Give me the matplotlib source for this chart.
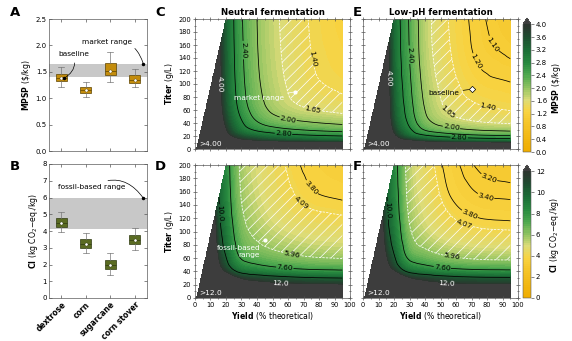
import matplotlib.pyplot as plt
import matplotlib.tri as mtri
import numpy as np
from matplotlib.colors import LinearSegmentedColormap

plt.rcParams["font.family"] = ["DejaVu Sans"]
plt.rcParams["font.size"] = 5
plt.rcParams["axes.linewidth"] = 0.5
plt.rcParams["axes.edgecolor"] = "#5a5a5a"
plt.rcParams["hatch.color"] = "white"
plt.rcParams["hatch.linewidth"] = 0.5

# ---- feedstock uncertainty (A, B) ----
feedstocks = ["dextrose", "corn", "sugarcane", "corn stover"]
mpsp_low = [1.21, 1.02, 1.31, 1.21]
mpsp_q1 = [1.32, 1.09, 1.43, 1.29]
mpsp_med = [1.38, 1.15, 1.52, 1.35]
mpsp_q3 = [1.46, 1.21, 1.66, 1.43]
mpsp_high = [1.60, 1.30, 1.87, 1.55]

ci_low = [3.94, 2.68, 1.36, 2.85]
ci_q1 = [4.21, 2.99, 1.72, 3.22]
ci_med = [4.45, 3.20, 1.98, 3.44]
ci_q3 = [4.76, 3.53, 2.27, 3.78]
ci_high = [5.11, 3.90, 2.70, 4.16]

market_range = [1.40, 1.65]
fossil_range = [4.09, 5.96]
fossil_range_lowph = [4.07, 5.96]

# ---- yield/titer maps (C-F) ----
yield_pts = [5, 10, 15, 20, 30, 40, 55, 75, 95]
titer_pts = [5, 10, 20, 30, 45, 65, 100, 150, 200]
# feasible only below the line through these points
limit_yield = [1.0, 20.0]
limit_titer = [0.0, 200.0]

# rows follow titer_pts, columns follow yield_pts
mpsp_neutral = [
    [14.79, 9.89, 8.82, 8.29, 7.76, 7.49, 7.27, 7.12, 7.03],
    [12.94, 7.62, 5.85, 5.21, 4.68, 4.41, 4.19, 4.04, 3.95],
    [12.25, 6.93, 5.16, 4.27, 3.53, 3.26, 3.04, 2.89, 2.80],
    [11.92, 6.60, 4.83, 3.94, 3.06, 2.71, 2.49, 2.34, 2.25],
    [11.67, 6.35, 4.58, 3.69, 2.80, 2.36, 2.07, 1.92, 1.83],
    [11.48, 6.16, 4.39, 3.50, 2.62, 2.17, 1.81, 1.61, 1.52],
    [11.38, 6.06, 4.29, 3.40, 2.52, 2.07, 1.71, 1.45, 1.35],
    [11.33, 6.01, 4.24, 3.35, 2.47, 2.02, 1.66, 1.40, 1.27],
    [11.31, 5.99, 4.22, 3.33, 2.44, 2.00, 1.64, 1.38, 1.23],
]
mpsp_lowph = [
    [15.09, 9.29, 8.10, 7.46, 6.93, 6.58, 6.35, 6.19, 6.13],
    [13.66, 7.86, 5.94, 5.07, 4.54, 4.19, 3.96, 3.80, 3.74],
    [12.88, 7.08, 5.16, 4.09, 3.25, 2.90, 2.67, 2.51, 2.45],
    [12.55, 6.75, 4.83, 3.76, 2.88, 2.36, 2.12, 1.96, 1.90],
    [12.33, 6.53, 4.61, 3.54, 2.66, 2.09, 1.76, 1.60, 1.54],
    [12.23, 6.43, 4.51, 3.44, 2.56, 1.98, 1.60, 1.42, 1.36],
    [12.14, 6.34, 4.42, 3.35, 2.47, 1.89, 1.51, 1.27, 1.21],
    [12.06, 6.26, 4.34, 3.27, 2.39, 1.81, 1.43, 1.16, 1.08],
    [12.03, 6.23, 4.31, 3.24, 2.36, 1.79, 1.40, 1.13, 1.03],
]
ci_neutral = [
    [42.45, 31.15, 28.07, 26.88, 25.03, 24.47, 23.98, 23.59, 23.45],
    [37.83, 24.55, 21.47, 20.28, 18.43, 17.87, 17.38, 16.99, 16.85],
    [34.33, 20.33, 16.47, 15.28, 13.43, 12.87, 12.38, 11.99, 11.85],
    [33.04, 19.04, 14.64, 13.43, 11.58, 11.02, 10.53, 10.14, 10.00],
    [31.06, 17.06, 12.66, 10.96, 8.76, 8.20, 7.71, 7.32, 7.18],
    [29.99, 16.00, 11.59, 9.89, 7.24, 6.67, 6.18, 5.79, 5.65],
    [29.22, 15.22, 10.82, 9.12, 6.47, 5.67, 5.08, 4.69, 4.55],
    [28.67, 14.67, 10.27, 8.57, 5.92, 5.12, 4.42, 3.91, 3.77],
    [28.45, 14.45, 10.05, 8.35, 5.70, 4.90, 4.20, 3.65, 3.45],
]
ci_lowph = [
    [42.05, 30.75, 27.95, 26.78, 24.68, 24.04, 23.46, 23.12, 23.05],
    [37.71, 24.55, 21.75, 20.58, 18.48, 17.84, 17.26, 16.92, 16.85],
    [34.23, 20.23, 16.78, 15.61, 13.51, 12.87, 12.29, 11.95, 11.88],
    [33.06, 19.06, 15.11, 13.94, 11.84, 11.20, 10.62, 10.28, 10.21],
    [30.94, 16.94, 12.94, 11.27, 8.81, 8.17, 7.59, 7.25, 7.18],
    [29.72, 15.72, 11.72, 10.05, 7.06, 6.42, 5.84, 5.50, 5.43],
    [28.80, 14.80, 10.80, 9.13, 6.13, 5.21, 4.53, 4.19, 4.12],
    [28.28, 14.28, 10.28, 8.61, 5.61, 4.69, 3.87, 3.45, 3.38],
    [28.05, 14.05, 10.05, 8.38, 5.38, 4.46, 3.64, 3.15, 3.05],
]

baseline_yield, baseline_titer = 70, 92
market_point = (64.7, 88)
fossil_point = (45.4, 87)

cmap = LinearSegmentedColormap.from_list("mpsp", [
    (0.00, "#efac00"), (0.22, "#f5c427"), (0.32, "#f8d443"), (0.41, "#dcdc78"),
    (0.50, "#93c462"), (0.60, "#4ea94f"), (0.70, "#27893f"), (0.80, "#1b6e36"),
    (0.90, "#1e4d30"), (1.00, "#2c332e")])
cmap.set_over("#3d3d3d")

W, H = 572, 341
fig = plt.figure(figsize=(W / 100, H / 100), dpi=100)


def px_axes(left, top, right, bottom):
    return fig.add_axes([left / W, 1 - bottom / H, (right - left) / W, (bottom - top) / H])


# ---- interpolation grid (log yield / log titer) ----
ny, nx = len(titer_pts), len(yield_pts)
gy, gt = np.meshgrid(yield_pts, titer_pts)
idx = np.arange(nx * ny).reshape(ny, nx)
a, b = idx[:-1, :-1].ravel(), idx[:-1, 1:].ravel()
c, d = idx[1:, 1:].ravel(), idx[1:, :-1].ravel()
tris = np.concatenate([np.column_stack([a, b, c]), np.column_stack([a, c, d])])
triang = mtri.Triangulation(np.log(gy.ravel()), np.log(gt.ravel()), tris)

fy, ft = np.meshgrid(np.linspace(1, yield_pts[-1], 340), np.linspace(0, titer_pts[-1], 340))
slope = (limit_titer[1] - limit_titer[0]) / (limit_yield[1] - limit_yield[0])
infeasible = ft > limit_titer[0] + slope * (fy - limit_yield[0])


def surface(grid):
    interp = mtri.CubicTriInterpolator(triang, np.asarray(grid, float).ravel(), kind="geom")
    z = interp(np.log(fy), np.log(np.maximum(ft, 0.1)))
    # below the lowest yield / titer the value is far above the colour range
    z = np.ma.filled(z, 1e3)
    return np.ma.masked_where(infeasible, z)


def style_map(ax, xlabels, ylabels):
    ax.set_xlim(0, 100)
    ax.set_ylim(0, 200)
    ax.set_xticks(np.arange(0, 101, 10))
    ax.set_xticks(np.arange(0, 101, 5), minor=True)
    ax.set_yticks(np.arange(0, 201, 20))
    ax.set_yticks(np.arange(0, 201, 10), minor=True)
    ax.tick_params(which="both", direction="inout", top=True, right=True,
                   width=0.5, labelsize=4.8, pad=1.5, color="#555555",
                   labelbottom=xlabels, labelleft=ylabels)
    ax.tick_params(which="major", length=3)
    ax.tick_params(which="minor", length=2)
    if xlabels:
        ax.set_xlabel(r"$\bf{Yield}$ (% theoretical)", fontsize=5.6, labelpad=1.5)
    if ylabels:
        ax.set_ylabel(r"$\bf{Titer}$ (g/L)", fontsize=5.6, labelpad=1.5)


def draw_map(ax, grid, vmax, band, lines, over_text):
    z = surface(grid)
    cf = ax.contourf(fy, ft, z, levels=np.linspace(0, vmax, 61), cmap=cmap, extend="max")
    ax.contourf(fy, ft, z, levels=band, colors="none", hatches=["///"])
    for level, text, color, style, tcolor, pos in lines:
        cs = ax.contour(fy, ft, z, levels=[level], colors=color, linewidths=0.55,
                        linestyles=[style])
        ax.clabel(cs, fmt={level: text}, manual=[pos], colors=tcolor, fontsize=5.3,
                  inline_spacing=1)
    ax.text(3, 7, over_text, color="white", fontsize=5.3, ha="left", va="center")
    return cf


dash = (0, (3, 1.6))
ax_c = px_axes(195, 19, 350, 149)
ax_d = px_axes(195, 165, 350, 298)
ax_e = px_axes(363, 19, 518, 149)
ax_f = px_axes(363, 165, 518, 298)

cf_mpsp = draw_map(ax_c, mpsp_neutral, 4.0, market_range, [
    (1.40, "1.40", "white", dash, "black", (77, 140)),
    (1.65, "1.65", "white", dash, "black", (76, 62)),
    (2.00, "2.00", "black", "solid", "black", (60, 45)),
    (2.40, "2.40", "black", "solid", "black", (28, 152)),
    (2.80, "2.80", "black", "solid", "black", (57, 20)),
    (4.00, "4.00", "#3d3d3d", "solid", "white", (15.5, 100)),
], ">4.00")
draw_map(ax_e, mpsp_lowph, 4.0, market_range, [
    (1.10, "1.10", "black", "solid", "black", (84, 162)),
    (1.20, "1.20", "black", "solid", "black", (73, 134)),
    (1.40, "1.40", "white", dash, "black", (81, 70)),
    (1.65, "1.65", "white", dash, "black", (55, 57)),
    (2.00, "2.00", "black", "solid", "black", (57, 32)),
    (2.40, "2.40", "black", "solid", "black", (29, 145)),
    (2.80, "2.80", "black", "solid", "black", (62, 16)),
    (4.00, "4.00", "#3d3d3d", "solid", "white", (16, 109)),
], ">4.00")
cf_ci = draw_map(ax_d, ci_neutral, 12.0, fossil_range, [
    (3.80, "3.80", "black", "solid", "black", (77, 170)),
    (4.09, "4.09", "white", dash, "black", (69, 145)),
    (5.96, "5.96", "white", dash, "black", (63, 75)),
    (7.60, "7.60", "black", "solid", "black", (58, 47)),
    (10.0, "10.0", "black", "solid", "black", (15.5, 127)),
    (12.0, "12.0", "#3d3d3d", "solid", "white", (55, 22)),
], ">12.0")
draw_map(ax_f, ci_lowph, 12.0, fossil_range_lowph, [
    (3.20, "3.20", "black", "solid", "black", (79, 165)),
    (3.40, "3.40", "black", "solid", "black", (79, 150)),
    (3.80, "3.80", "black", "solid", "black", (69, 127)),
    (4.07, "4.07", "white", dash, "black", (65, 112)),
    (5.96, "5.96", "white", dash, "black", (57, 57)),
    (7.60, "7.60", "black", "solid", "black", (51, 42)),
    (10.0, "10.0", "black", "solid", "black", (15.5, 132)),
    (12.0, "12.0", "#3d3d3d", "solid", "white", (54, 22)),
], ">12.0")

style_map(ax_c, False, True)
style_map(ax_d, True, True)
style_map(ax_e, False, False)
style_map(ax_f, True, False)
ax_c.set_title("Neutral fermentation", fontsize=6.2, fontweight="bold", pad=3)
ax_e.set_title("Low-pH fermentation", fontsize=6.2, fontweight="bold", pad=3)

# point annotations on the maps
ax_c.plot(*market_point, "o", ms=2, color="white", zorder=6)
ax_c.annotate("market range", xy=market_point, xytext=(41, 78), color="white",
              ha="center", va="center", fontsize=5.3,
              arrowprops=dict(arrowstyle="-", color="white", lw=0.5, shrinkA=1, shrinkB=0))
ax_e.plot(baseline_yield, baseline_titer, "D", ms=3.2, mfc="white", mec="black",
          mew=0.5, zorder=6)
ax_e.annotate("baseline", xy=(baseline_yield, baseline_titer), xytext=(52, 86),
              color="black", ha="center", va="center", fontsize=5.3,
              arrowprops=dict(arrowstyle="-", color="black", lw=0.5, shrinkA=1, shrinkB=2))
ax_d.plot(*fossil_point, "o", ms=2, color="white", zorder=6)
ax_d.annotate("fossil-based\nrange", xy=fossil_point, xytext=(28, 70), color="white",
              ha="center", va="center", multialignment="right", fontsize=5.3,
              linespacing=1.3,
              arrowprops=dict(arrowstyle="-", color="white", lw=0.5, shrinkA=1, shrinkB=0))

# colour bars
cax1 = px_axes(523, 18, 531, 152)
cax2 = px_axes(523, 165, 531, 298)
cb1 = fig.colorbar(cf_mpsp, cax=cax1, extend="max")
cb1.set_ticks(np.arange(0, 4.01, 0.4))
cb1.set_ticklabels([f"{v:.1f}" for v in np.arange(0, 4.01, 0.4)])
cb1.set_label(r"$\bf{MPSP}$ (\$/kg)", fontsize=5.6, labelpad=2)
cax1.axhspan(*market_range, facecolor="none", edgecolor="none", hatch="///", lw=0)
cb2 = fig.colorbar(cf_ci, cax=cax2, extend="max")
cb2.set_ticks(np.arange(0, 13, 2))
cb2.set_label(r"$\bf{CI}$ (kg CO$_2$$-$eq./kg)", fontsize=5.6, labelpad=2)
cax2.axhspan(*fossil_range, facecolor="none", edgecolor="none", hatch="///", lw=0)
for cb in (cb1, cb2):
    cb.outline.set_linewidth(0.4)
    cb.ax.tick_params(length=2, width=0.5, labelsize=5, pad=1.5, color="#555555")


# ---- box plots ----
def feedstock_boxes(ax, low, q1, med, q3, high, face, edge):
    stats = [dict(whislo=w0, q1=b0, med=m, q3=b1, whishi=w1, fliers=[])
             for w0, b0, m, b1, w1 in zip(low, q1, med, q3, high)]
    pos = np.arange(len(stats))
    ax.bxp(stats, positions=pos, widths=0.46, capwidths=0.26, patch_artist=True,
           showfliers=False,
           boxprops=dict(facecolor=face, edgecolor=edge, linewidth=0.5),
           medianprops=dict(color=edge, linewidth=0.5),
           whiskerprops=dict(color="#777777", linewidth=0.5),
           capprops=dict(color="#777777", linewidth=0.5))
    ax.scatter(pos, med, s=5, facecolor="white", edgecolor=edge, linewidths=0.3, zorder=5)
    ax.set_xlim(-0.5, 3.5)
    ax.set_xticks(pos)
    ax.tick_params(direction="in", top=True, right=True, length=2, width=0.5,
                   labelsize=5, pad=1.5, color="#555555")


ax_a = px_axes(49, 19, 147, 151)
ax_b = px_axes(49, 164, 147, 298)

ax_a.axhspan(*market_range, color="#c8c8c8", lw=0, zorder=0)
feedstock_boxes(ax_a, mpsp_low, mpsp_q1, mpsp_med, mpsp_q3, mpsp_high, "#c38c0c", "#5c4300")
ax_a.set_ylim(0, 2.5)
ax_a.set_yticks(np.arange(0, 2.51, 0.5))
ax_a.set_yticklabels([f"{v:.1f}" for v in np.arange(0, 2.51, 0.5)])
ax_a.set_xticklabels([])
ax_a.set_ylabel(r"$\bf{MPSP}$ (\$/kg)", fontsize=5.6, labelpad=2)
ax_a.annotate("baseline", xy=(0.12, mpsp_med[0]), xytext=(0.5, 1.83), ha="center",
              va="center", fontsize=5.3,
              arrowprops=dict(arrowstyle="-", connectionstyle="arc3,rad=-0.4",
                              color="black", lw=0.5, shrinkA=2, shrinkB=0))
ax_a.plot(0.12, mpsp_med[0], "o", ms=1.5, color="black", zorder=6)
ax_a.annotate("market range", xy=(3.35, market_range[1]), xytext=(1.85, 2.07),
              ha="center", va="center", fontsize=5.3,
              arrowprops=dict(arrowstyle="-", connectionstyle="arc3,rad=-0.45",
                              color="black", lw=0.5, shrinkA=1, shrinkB=0))
ax_a.plot(3.35, market_range[1], "o", ms=1.5, color="black", zorder=6)

ax_b.axhspan(*fossil_range, color="#c8c8c8", lw=0, zorder=0)
feedstock_boxes(ax_b, ci_low, ci_q1, ci_med, ci_q3, ci_high, "#5a6b22", "#2f3a10")
ax_b.set_ylim(0, 8)
ax_b.set_yticks(np.arange(0, 9, 1))
ax_b.set_xticklabels(feedstocks, rotation=45, ha="right", rotation_mode="anchor",
                     fontweight="bold", fontsize=5.5)
ax_b.set_ylabel(r"$\bf{CI}$ (kg CO$_2$$-$eq./kg)", fontsize=5.6, labelpad=2)
ax_b.annotate("fossil-based range", xy=(3.35, fossil_range[1]), xytext=(1.25, 6.65),
              ha="center", va="center", fontsize=5.3,
              arrowprops=dict(arrowstyle="-", connectionstyle="arc3,rad=-0.45",
                              color="black", lw=0.5, shrinkA=1, shrinkB=0))
ax_b.plot(3.35, fossil_range[1], "o", ms=1.5, color="black", zorder=6)

# panel letters
for letter, x, y in [("A", 15, 12), ("B", 15, 166), ("C", 160, 12),
                     ("D", 160, 166), ("E", 357, 12), ("F", 357, 166)]:
    fig.text(x / W, 1 - y / H, letter, fontsize=9.5, fontweight="bold",
             ha="center", va="center")

fig.savefig("out.png", dpi=100)
